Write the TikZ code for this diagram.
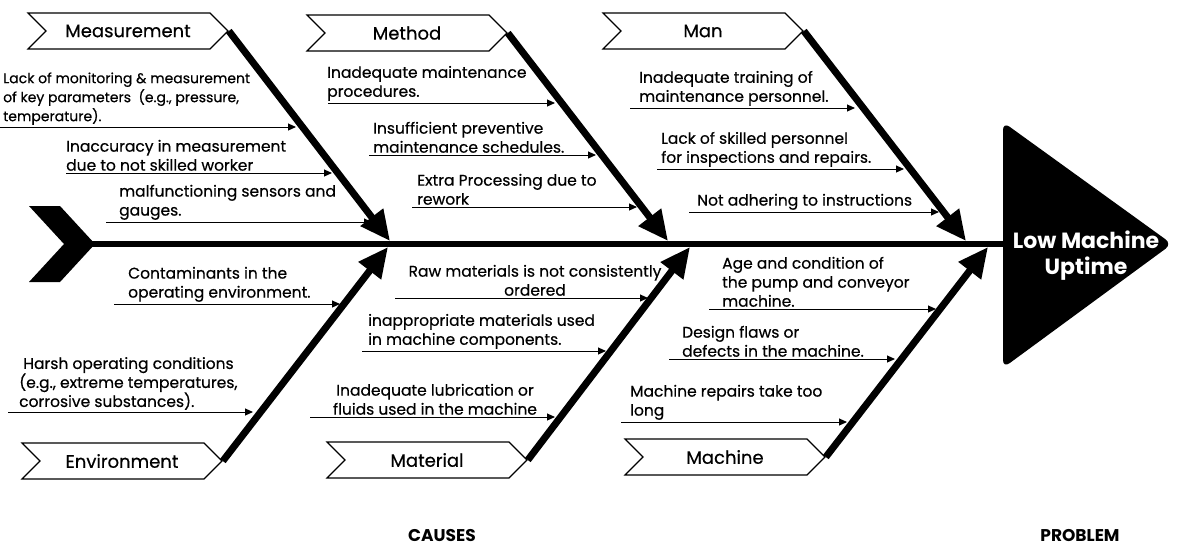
\documentclass[tikz,border=0pt]{standalone}
\usepackage{fontspec}
\setmainfont{Poppins}[UprightFeatures={FakeBold=0.5}]
\usetikzlibrary{arrows.meta,shapes.symbols,positioning}

\begin{document}
\begin{tikzpicture}[x=1pt,y=-1pt,
			category/.style={signal,signal from=west,signal to=east,signal pointer angle=90,
				draw=black,line width=1.2pt,fill=white,minimum width=200pt,minimum height=36pt,
				inner sep=0pt,font=\fontsize{18}{20}\selectfont},
			cause/.style={anchor=south west,align=left,inner sep=0pt,font=\fontsize{15.5}{19}\selectfont},
			feeder/.style={line width=1pt,-{Triangle[length=8pt,width=7pt]}},
			bone/.style={line width=7pt,-{Triangle[length=30pt,width=27pt]}},
			spine/.style={line width=6.5pt},
			footer/.style={font=\fontsize{17}{20}\selectfont\bfseries}]

	\useasboundingbox (0,0) rectangle (1178,547);

	\fill (29,206) -- (60,206) -- (95,244) -- (60,282) -- (29,282) -- (64,244) -- cycle;
	\fill[rounded corners=8pt] (1003,122) -- (1172,244) -- (1003,368) -- cycle;
	\coordinate (tail) at (80,244);
	\coordinate (head) at (1006,244);
	\draw[spine] (tail) -- (head);
	\node[text=white,align=center,font=\fontsize{22}{26}\selectfont\bfseries] (problem) at (1086,256) {Low Machine\\Uptime};

	\node[category] (measurement) at (128,31) {Measurement};
	\node[category] (method) at (407,33) {Method};
	\node[category] (man) at (703,31) {Man};
	\node[category] (environment) at (122,461) {Environment};
	\node[category] (material) at (427,460) {Material};
	\node[category] (machine) at (725,457) {Machine};

	\coordinate (j1) at (390,241);
	\coordinate (j2) at (668,241);
	\coordinate (j3) at (966,241);
	\coordinate (k1) at (388,247);
	\coordinate (k2) at (690,247);
	\coordinate (k3) at (988,247);
	\draw[bone] (measurement.east) -- (j1);
	\draw[bone] (method.east) -- (j2);
	\draw[bone] (man.east) -- (j3);
	\draw[bone] (environment.east) -- (k1);
	\draw[bone] (material.east) -- (k2);
	\draw[bone] (machine.east) -- (k3);

	\node[cause,font=\fontsize{14}{19}\selectfont] (ms1) at (3,125) {Lack of monitoring \& measurement\\of key parameters\ \ (e.g., pressure,\\temperature).};
	\coordinate (ms1a) at (0,127); \coordinate (ms1b) at (296,127);
	\draw[feeder] (ms1a) -- (ms1b);
	\node[cause] (ms2) at (66,171) {Inaccuracy in measurement\\due to not skilled worker};
	\coordinate (ms2a) at (66,173); \coordinate (ms2b) at (332,173);
	\draw[feeder] (ms2a) -- (ms2b);
	\node[cause] (ms3) at (119,220) {malfunctioning sensors and\\gauges.};
	\coordinate (ms3a) at (106,222); \coordinate (ms3b) at (372,222);
	\draw[feeder] (ms3a) -- (ms3b);

	\node[cause] (mt1) at (327,101) {Inadequate maintenance\\procedures.};
	\coordinate (mt1a) at (328,103); \coordinate (mt1b) at (555,103);
	\draw[feeder] (mt1a) -- (mt1b);
	\node[cause] (mt2) at (373,153) {Insufficient preventive\\maintenance schedules.};
	\coordinate (mt2a) at (369,155); \coordinate (mt2b) at (596,155);
	\draw[feeder] (mt2a) -- (mt2b);
	\node[cause] (mt3) at (417,205) {Extra Processing due to\\rework};
	\coordinate (mt3a) at (412,207); \coordinate (mt3b) at (637,207);
	\draw[feeder] (mt3a) -- (mt3b);

	\node[cause] (mn1) at (639,106) {Inadequate training of\\maintenance personnel.};
	\coordinate (mn1a) at (630,108); \coordinate (mn1b) at (855,108);
	\draw[feeder] (mn1a) -- (mn1b);
	\node[cause] (mn2) at (661,167) {Lack of skilled personnel\\for inspections and repairs.};
	\coordinate (mn2a) at (657,169); \coordinate (mn2b) at (904,169);
	\draw[feeder] (mn2a) -- (mn2b);
	\node[cause] (mn3) at (697,210) {Not adhering to instructions};
	\coordinate (mn3a) at (689,212); \coordinate (mn3b) at (939,212);
	\draw[feeder] (mn3a) -- (mn3b);

	\node[cause] (en1) at (128,302) {Contaminants in the\\operating environment.};
	\coordinate (en1a) at (114,304); \coordinate (en1b) at (340,304);
	\draw[feeder] (en1a) -- (en1b);
	\node[cause] (en2) at (19,410) {\ Harsh operating conditions\\(e.g., extreme temperatures,\\corrosive substances).};
	\coordinate (en2a) at (8,412); \coordinate (en2b) at (253,412);
	\draw[feeder] (en2a) -- (en2b);

	\node[cause,anchor=south,align=center] (mr1) at (535,296) {Raw materials is not consistently\\ordered};
	\coordinate (mr1a) at (395,298); \coordinate (mr1b) at (648,298);
	\draw[feeder] (mr1a) -- (mr1b);
	\node[cause] (mr2) at (368,349) {inappropriate materials used\\in machine components.};
	\coordinate (mr2a) at (362,351); \coordinate (mr2b) at (606,351);
	\draw[feeder] (mr2a) -- (mr2b);
	\node[cause,anchor=south,align=center] (mr3) at (435,415) {Inadequate lubrication or\\fluids used in the machine};
	\coordinate (mr3a) at (310,417); \coordinate (mr3b) at (555,417);
	\draw[feeder] (mr3a) -- (mr3b);

	\node[cause] (mc1) at (722,307) {Age and condition of\\the pump and conveyor\\machine.};
	\coordinate (mc1a) at (709,309); \coordinate (mc1b) at (936,309);
	\draw[feeder] (mc1a) -- (mc1b);
	\node[cause] (mc2) at (682,357) {Design flaws or\\defects in the machine.};
	\coordinate (mc2a) at (669,359); \coordinate (mc2b) at (895,359);
	\draw[feeder] (mc2a) -- (mc2b);
	\node[cause] (mc3) at (630,420) {Machine repairs take too\\long};
	\coordinate (mc3a) at (621,422); \coordinate (mc3b) at (847,422);
	\draw[feeder] (mc3a) -- (mc3b);

	\node[footer] (causes) at (442,535) {CAUSES};
	\node[footer] (problemlabel) at (1080,535) {PROBLEM};
\end{tikzpicture}
\end{document}
